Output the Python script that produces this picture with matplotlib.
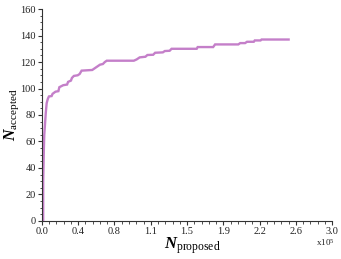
import matplotlib
matplotlib.use("Agg")
import matplotlib.pyplot as plot
from matplotlib.ticker import AutoMinorLocator

# colors
c_line = "#c47fc9"
c_axis = "#333333"

# data (x in units of 1e5 proposals)
n_proposed = [0.013, 0.013, 0.020, 0.024, 0.040, 0.049, 0.060, 0.072, 0.10, 0.11,
              0.14, 0.17, 0.18, 0.22, 0.26, 0.27, 0.30, 0.31, 0.33, 0.37,
              0.39, 0.41, 0.52, 0.54, 0.56, 0.58, 0.60, 0.63, 0.65, 0.67,
              0.95, 0.98, 1.01, 1.07, 1.09, 1.15, 1.17, 1.25, 1.27, 1.32,
              1.34, 1.60, 1.61, 1.77, 1.79, 2.03, 2.05, 2.10, 2.12, 2.19,
              2.20, 2.26, 2.27, 2.55]
n_accepted = [0, 30, 55, 65, 82, 89, 92, 94, 94.3, 96,
              97.6, 98, 101, 102.5, 103, 105, 106, 108, 109.5, 110,
              111, 113.5, 114, 115, 116, 117, 118, 118.5, 120, 121,
              121, 122, 123.5, 124, 125.3, 125.5, 127, 127.3, 128.3, 128.5,
              130, 130, 131.3, 131.3, 133.3, 133.3, 134.3, 134.3, 135.3, 135.3,
              136.3, 136.3, 137, 137]

x_ticks = [0, 0.375, 0.75, 1.125, 1.5, 1.875, 2.25, 2.625, 3.0]
x_labels = ["0.0", "0.4", "0.8", "1.1", "1.5", "1.9", "2.2", "2.6", "3.0"]
y_ticks = [0, 20, 40, 60, 80, 100, 120, 140, 160]

plot.rcParams["font.family"] = "Liberation Serif"
plot.rcParams["mathtext.fontset"] = "custom"
plot.rcParams["mathtext.rm"] = "Liberation Serif"
plot.rcParams["mathtext.it"] = "Liberation Serif:italic"
plot.rcParams["mathtext.bf"] = "Liberation Serif:bold"
plot.rcParams["mathtext.bfit"] = "Liberation Serif:bold:italic"

fig = plot.figure(figsize=(3.41, 2.59), dpi=100)
ax = fig.add_axes([0.123, 0.147, 0.851, 0.818])

ax.plot(n_proposed, n_accepted, color=c_line, linewidth=1.7, solid_joinstyle="miter")

ax.set_xlim(0, 3.0)
ax.set_ylim(0, 160)
ax.set_xticks(x_ticks)
ax.set_xticklabels(x_labels)
ax.set_yticks(y_ticks)
ax.xaxis.set_minor_locator(AutoMinorLocator(5))
ax.yaxis.set_minor_locator(AutoMinorLocator(4))

for side in ["top", "right"]:
    ax.spines[side].set_visible(False)
for side in ["left", "bottom"]:
    ax.spines[side].set_color(c_axis)
    ax.spines[side].set_linewidth(0.8)

ax.tick_params(which="major", direction="out", length=3, width=0.8, colors=c_axis,
               labelsize=7.5, pad=1.5, labelcolor="#222222")
ax.tick_params(which="minor", direction="out", length=1.8, width=0.6, colors=c_axis)

ax.set_xlabel(r"$\mathbfit{N}_{\mathrm{proposed}}$", fontsize=12)
ax.set_ylabel(r"$\mathbfit{N}_{\mathrm{accepted}}$", fontsize=11.5)
ax.xaxis.set_label_coords(0.517, -0.118, transform=ax.transAxes)
ax.yaxis.set_label_coords(-0.104, 0.5, transform=ax.transAxes)
ax.xaxis.label.set_va("center")
ax.yaxis.label.set_va("center")

fig.text(0.982, 0.05, r"x10$^5$", fontsize=6.5, color="#222222", ha="right")

plot.savefig("out.png", dpi=100)
